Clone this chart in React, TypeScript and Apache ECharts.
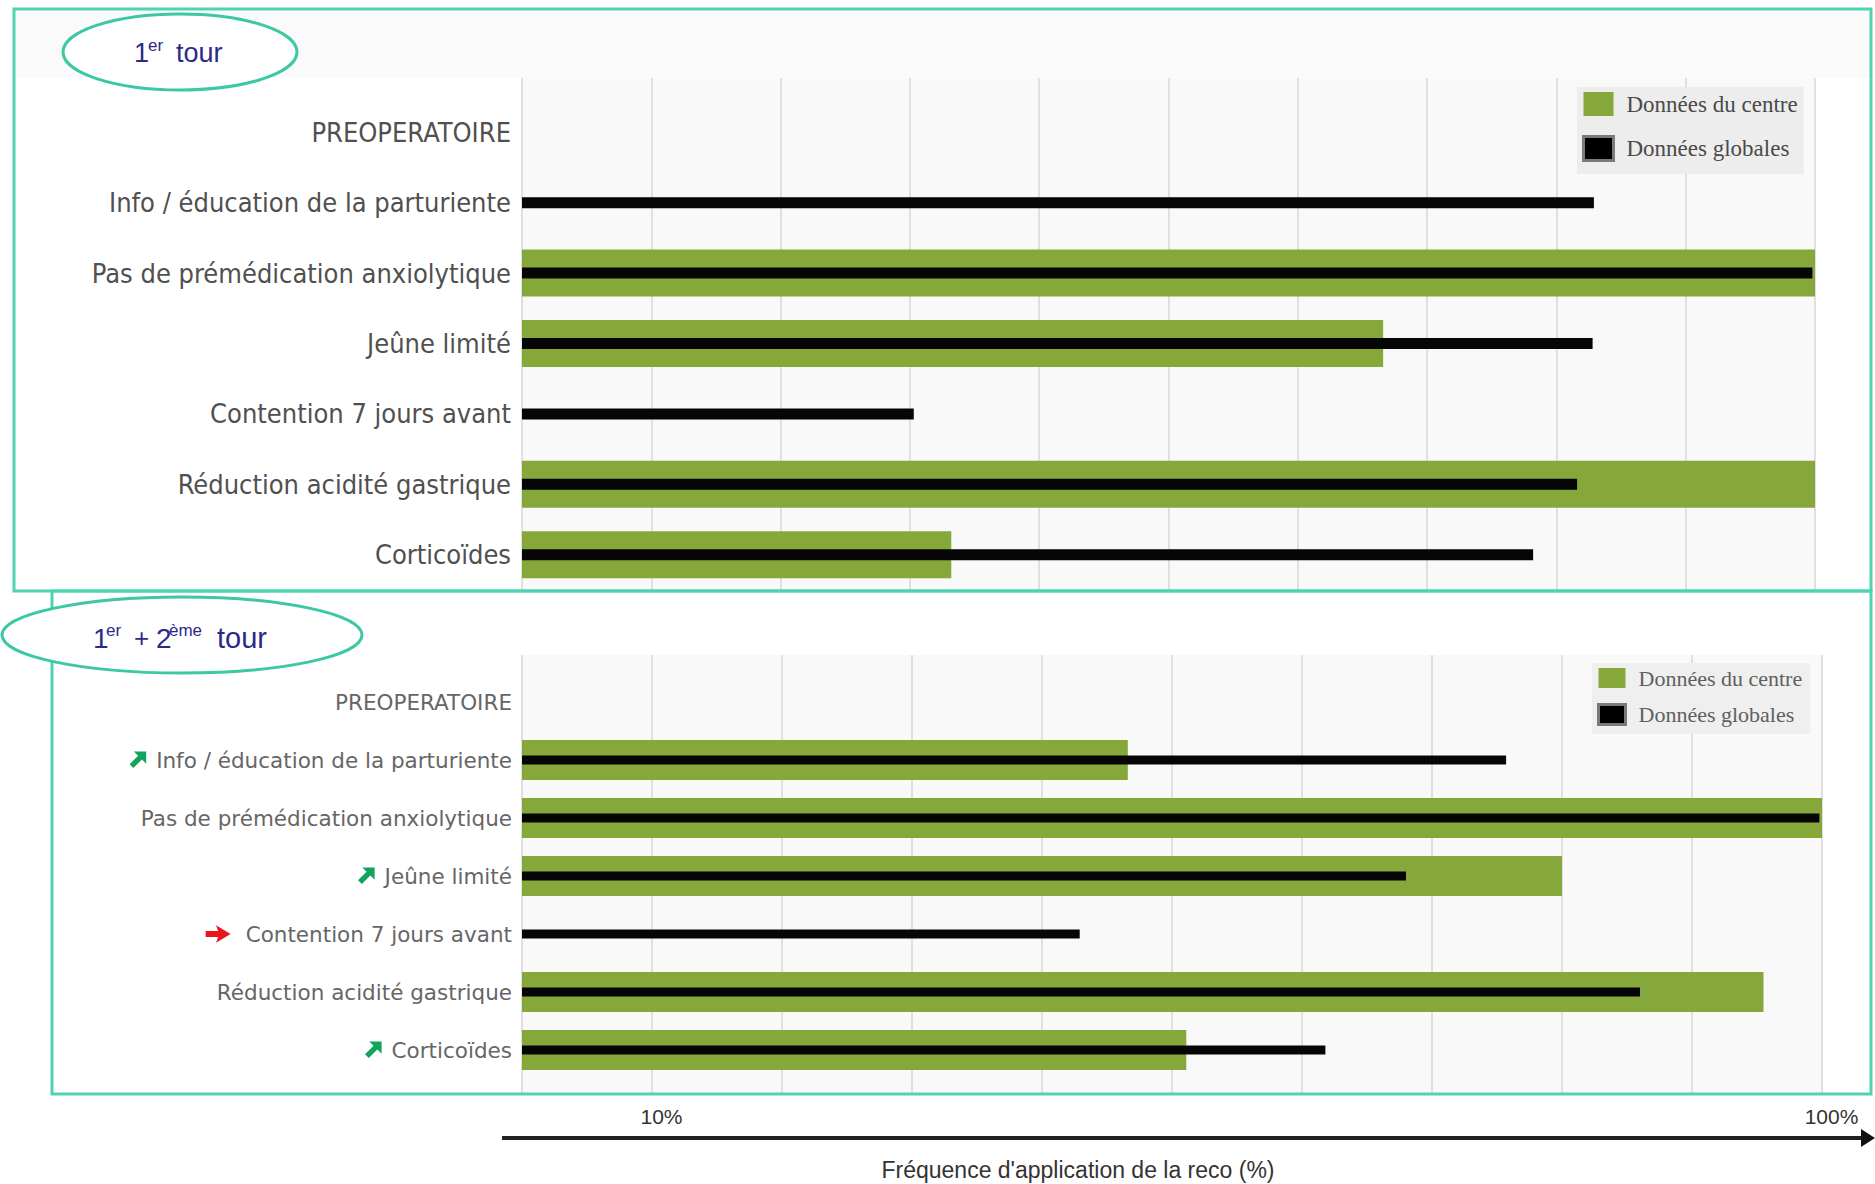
import { useEffect, useRef } from 'react';
import * as echarts from 'echarts';

// Rows of both panels, top to bottom
const categories = [
  'PREOPERATOIRE',
  'Info / éducation de la parturiente',
  'Pas de prémédication anxiolytique',
  'Jeûne limité',
  'Contention 7 jours avant',
  'Réduction acidité gastrique',
  'Corticoïdes',
];

// 1er tour (%)
const centreTour1 = [null, null, 100, 66.6, null, 100, 33.2];
const globalTour1 = [null, 82.9, 99.8, 82.8, 30.3, 81.6, 78.2];

// 1er + 2ème tour (%)
const centreTour12 = [null, 46.6, 100, 80.0, null, 95.5, 51.1];
const globalTour12 = [null, 75.7, 99.8, 68.0, 42.9, 86.0, 61.8];

// Evolution marker in front of each row of the second panel
const trends = ['', 'up', '', 'up', 'flat', '', 'up'];

// Ticks that carry a label on the frequency axis
const labelledTicks = [10, 100];

const SERIES_CENTRE = 'Données du centre';
const SERIES_GLOBAL = 'Données globales';

const GREEN = '#86a83a';
const BLACK = '#060606';
const TEAL = '#4fd3b1';
const NAVY = '#2d2a86';
const GRID_LINE = '#e0e0e0';
const LABEL_FONT = "'DejaVu Sans Condensed', 'DejaVu Sans', sans-serif";
const BADGE_FONT = "'Liberation Sans', Arial, sans-serif";

// Small arrow pictograms used in front of the row labels
const svgUrl = (viewBox: string, d: string, fill: string) =>
  'data:image/svg+xml;charset=utf-8,' +
  encodeURIComponent(
    `<svg xmlns="http://www.w3.org/2000/svg" viewBox="${viewBox}"><path d="${d}" fill="${fill}"/></svg>`
  );
const ARROW_UP = svgUrl('0 0 20 20', 'M19 1 L19 14 L14.5 9.5 L5.5 18.5 L1.5 14.5 L10.5 5.5 L6 1 Z', '#14a35c');
const ARROW_FLAT = svgUrl('0 0 26 20', 'M1 7 L13 7 L11 1.5 L25 10 L11 18.5 L13 13 L1 13 Z', '#e8151c');

function buildOption() {
  const hiddenValueX = (gridIndex: number) => ({
    type: 'value',
    gridIndex,
    min: 0,
    max: 100,
    interval: 10,
    show: false,
  });

  const gridLinesX = (gridIndex: number, withLabels: boolean) => ({
    type: 'value',
    gridIndex,
    min: 0,
    max: 100,
    interval: 10,
    axisLine: { show: false },
    axisTick: { show: false },
    splitLine: { show: true, lineStyle: { color: GRID_LINE, width: 2 } },
    axisLabel: withLabels
      ? {
          show: true,
          margin: 12,
          padding: [0, 0, 0, 19],
          showMinLabel: true,
          showMaxLabel: true,
          fontFamily: BADGE_FONT,
          fontSize: 21,
          color: '#333',
          formatter: (v: number) => (labelledTicks.includes(v) ? `${v}%` : ''),
        }
      : { show: false },
  });

  const hiddenValueY = (gridIndex: number) => ({
    type: 'value',
    gridIndex,
    show: false,
    min: 0,
    max: 1,
  });

  const hiddenCategoryY = (gridIndex: number) => ({
    type: 'category',
    gridIndex,
    data: categories,
    inverse: true,
    show: false,
  });

  const trendLabel = (value: string, index: number) => {
    const t = trends[index];
    if (t === 'up') return `{up|}{gap|}{lab|${value}}`;
    if (t === 'flat') return `{flat|}{gapWide|}{lab|${value}}`;
    return `{lab|${value}}`;
  };

  const badgeText = (x: number, y: number, text: string, size: number) => ({
    type: 'text',
    z: 21,
    x,
    y,
    style: { text, fill: NAVY, font: `${size}px ${BADGE_FONT}`, verticalAlign: 'middle' },
  });

  return {
    animation: false,
    backgroundColor: '#ffffff',
    grid: [
      // 1er tour: background with the vertical grid lines
      { left: 522, right: 60, top: 78, bottom: 593, show: true, backgroundColor: '#f9f9f9', borderWidth: 0 },
      // 1er tour: bars
      { left: 522, right: 60, top: 97, bottom: 594 },
      // 1er + 2ème tour: background with the vertical grid lines and tick labels
      { left: 522, right: 53, top: 655, bottom: 90, show: true, backgroundColor: '#f9f9f9', borderWidth: 0 },
      // 1er + 2ème tour: bars
      { left: 522, right: 53, top: 673, bottom: 105 },
    ],
    xAxis: [gridLinesX(0, false), hiddenValueX(1), gridLinesX(2, true), hiddenValueX(3)],
    yAxis: [
      hiddenValueY(0),
      {
        type: 'category',
        gridIndex: 1,
        data: categories,
        inverse: true,
        axisLine: { show: false },
        axisTick: { show: false },
        axisLabel: {
          interval: 0,
          margin: 11,
          fontFamily: LABEL_FONT,
          fontSize: 27,
          color: '#505050',
        },
      },
      hiddenCategoryY(1),
      hiddenValueY(2),
      {
        type: 'category',
        gridIndex: 3,
        data: categories,
        inverse: true,
        axisLine: { show: false },
        axisTick: { show: false },
        axisLabel: {
          interval: 0,
          margin: 10,
          formatter: trendLabel,
          rich: {
            lab: { fontFamily: "'DejaVu Sans', sans-serif", fontSize: 21.5, color: '#666' },
            up: { width: 19, height: 19, backgroundColor: { image: ARROW_UP } },
            flat: { width: 27, height: 21, backgroundColor: { image: ARROW_FLAT } },
            gap: { width: 9, height: 10 },
            gapWide: { width: 14, height: 10 },
          },
        },
      },
      hiddenCategoryY(3),
    ],
    legend: [
      {
        orient: 'vertical',
        left: 1577,
        top: 87,
        icon: 'rect',
        itemWidth: 30,
        itemHeight: 24,
        itemGap: 19,
        padding: [5, 6, 12, 5],
        backgroundColor: '#ededed',
        selectedMode: false,
        textStyle: {
          fontFamily: "'Liberation Serif', 'Times New Roman', serif",
          fontSize: 23,
          color: '#4a4a4a',
          padding: [0, 0, 0, 8],
        },
        data: [
          { name: SERIES_CENTRE, itemStyle: { color: GREEN } },
          { name: SERIES_GLOBAL, itemStyle: { color: '#000', borderColor: '#7a7a7a', borderWidth: 3 } },
        ],
      },
      {
        orient: 'vertical',
        left: 1592,
        top: 663,
        icon: 'rect',
        itemWidth: 27,
        itemHeight: 20,
        itemGap: 14,
        padding: [4, 8, 8, 5],
        backgroundColor: '#efefef',
        selectedMode: false,
        textStyle: {
          fontFamily: "'Liberation Serif', 'Times New Roman', serif",
          fontSize: 22,
          color: '#606060',
          padding: [0, 0, 0, 8],
        },
        data: [
          { name: SERIES_CENTRE, itemStyle: { color: GREEN } },
          { name: SERIES_GLOBAL, itemStyle: { color: '#000', borderColor: '#7a7a7a', borderWidth: 3 } },
        ],
      },
    ],
    series: [
      {
        name: SERIES_CENTRE,
        type: 'bar',
        xAxisIndex: 1,
        yAxisIndex: 1,
        data: centreTour1,
        barWidth: 47,
        itemStyle: { color: GREEN },
        z: 2,
      },
      {
        name: SERIES_GLOBAL,
        type: 'bar',
        xAxisIndex: 1,
        yAxisIndex: 2,
        data: globalTour1,
        barWidth: 11,
        itemStyle: { color: BLACK },
        z: 3,
      },
      {
        name: SERIES_CENTRE,
        type: 'bar',
        xAxisIndex: 3,
        yAxisIndex: 4,
        data: centreTour12,
        barWidth: 40,
        itemStyle: { color: GREEN },
        z: 2,
      },
      {
        name: SERIES_GLOBAL,
        type: 'bar',
        xAxisIndex: 3,
        yAxisIndex: 5,
        data: globalTour12,
        barWidth: 9,
        itemStyle: { color: BLACK },
        z: 3,
      },
    ],
    graphic: [
      // light header band of the first panel
      { type: 'rect', z: -10, shape: { x: 16, y: 11, width: 1854, height: 67 }, style: { fill: '#fafafa' } },
      // panel frames
      {
        type: 'rect',
        shape: { x: 14, y: 9, width: 1857, height: 582 },
        style: { fill: 'none', stroke: TEAL, lineWidth: 3 },
        z: 10,
      },
      {
        type: 'rect',
        shape: { x: 52, y: 591, width: 1819, height: 503 },
        style: { fill: 'none', stroke: TEAL, lineWidth: 3 },
        z: 10,
      },
      // round badges
      {
        type: 'ellipse',
        shape: { cx: 180, cy: 52, rx: 117, ry: 38 },
        style: { fill: '#ffffff', stroke: '#3cc8a4', lineWidth: 3 },
        z: 20,
      },
      {
        type: 'ellipse',
        shape: { cx: 182, cy: 635, rx: 180, ry: 38 },
        style: { fill: '#ffffff', stroke: '#3cc8a4', lineWidth: 3 },
        z: 20,
      },
      badgeText(134, 53, '1', 27),
      badgeText(148, 45, 'er', 17),
      badgeText(176, 53, 'tour', 27),
      badgeText(93, 638, '1', 28),
      badgeText(106, 630, 'er', 17),
      badgeText(134, 638, '+', 26),
      badgeText(156, 638, '2', 28),
      badgeText(169, 630, 'ème', 17),
      badgeText(217, 638, 'tour', 29),
      // frequency arrow under the panels
      {
        type: 'line',
        shape: { x1: 502, y1: 1138, x2: 1864, y2: 1138 },
        style: { stroke: '#222', lineWidth: 4 },
      },
      {
        type: 'polygon',
        shape: { points: [[1861, 1129], [1875, 1138], [1861, 1147]] },
        style: { fill: '#111' },
      },
      {
        type: 'text',
        x: 1078,
        y: 1170,
        style: {
          text: "Fréquence d'application de la reco (%)",
          fill: '#333',
          font: `23px ${BADGE_FONT}`,
          align: 'center',
          verticalAlign: 'middle',
        },
      },
    ],
  };
}

export default function App() {
  const ref = useRef<HTMLDivElement>(null);

  useEffect(() => {
    document.body.style.margin = '0';
    if (!ref.current) return;
    const chart = echarts.init(ref.current, null, { renderer: 'svg' });
    chart.setOption(buildOption() as any);
    return () => chart.dispose();
  }, []);

  return <div ref={ref} style={{ width: 1875, height: 1184 }} />;
}
